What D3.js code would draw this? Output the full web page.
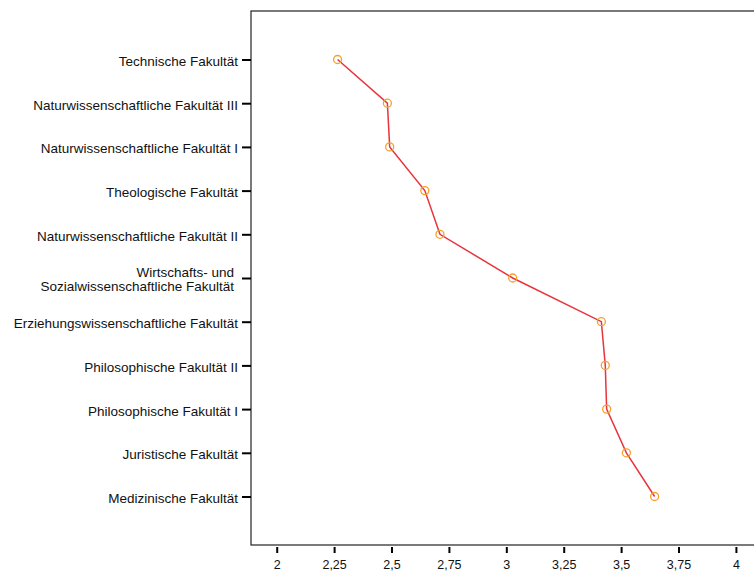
<!DOCTYPE html>
<html><head><meta charset="utf-8">
<script src="https://cdn.jsdelivr.net/npm/d3@7"></script>
<style>body{margin:0;background:#fff}svg{display:block}</style>
</head><body>
<script>
const categories = [
  "Technische Fakultät",
  "Naturwissenschaftliche Fakultät III",
  "Naturwissenschaftliche Fakultät I",
  "Theologische Fakultät",
  "Naturwissenschaftliche Fakultät II",
  "Wirtschafts- und\nSozialwissenschaftliche Fakultät",
  "Erziehungswissenschaftliche Fakultät",
  "Philosophische Fakultät II",
  "Philosophische Fakultät I",
  "Juristische Fakultät",
  "Medizinische Fakultät"
];
const values = [2.265, 2.482, 2.492, 2.645, 2.711, 3.028, 3.414, 3.431, 3.437, 3.523, 3.646];
const xTicks = [2, 2.25, 2.5, 2.75, 3, 3.25, 3.5, 3.75, 4];
const xTickLabels = ["2", "2,25", "2,5", "2,75", "3", "3,25", "3,5", "3,75", "4"];

(function () {
const W = 754, H = 572;
const mLeft = 251, mTop = 11, mBottom = 545;
const x = d3.scaleLinear().domain([1.888, 4.12]).range([mLeft, mLeft + (4.12 - 1.888) * 229.6]);
const y = d3.scalePoint().domain(categories).range([mTop, mBottom]).padding(1.11);

const svg = d3.select("body").append("svg").attr("width", W).attr("height", H)
  .style("font-family", "'Liberation Sans', Arial, sans-serif");

// frame
svg.append("rect").attr("x", mLeft).attr("y", mTop)
  .attr("width", x.range()[1] - mLeft).attr("height", mBottom - mTop)
  .attr("fill", "none").attr("stroke", "#222").attr("stroke-width", 1.2);

// x axis
const xa = svg.append("g").attr("transform", `translate(0,${mBottom + 2})`)
  .call(d3.axisBottom(x).tickValues(xTicks).tickSize(6).tickPadding(7)
    .tickFormat((d, i) => xTickLabels[i]));
xa.select(".domain").remove();
xa.selectAll(".tick line").attr("stroke", "#000").attr("stroke-width", 2);
xa.selectAll(".tick text").attr("font-size", 12.5).attr("fill", "#111")
  .attr("font-family", "'Liberation Sans', Arial, sans-serif");

// y axis
const ya = svg.append("g").attr("transform", `translate(${mLeft},0)`)
  .call(d3.axisLeft(y).tickSize(9).tickFormat(""));
ya.select(".domain").remove();
ya.selectAll(".tick line").attr("stroke", "#000").attr("stroke-width", 2);
ya.selectAll(".tick text").remove();

const lab = svg.append("g");
categories.forEach(c => {
  const lines = c.split("\n");
  const t = lab.append("text").attr("text-anchor", "end").attr("font-size", 13.5).attr("fill", "#111");
  if (lines.length === 1) {
    t.append("tspan").attr("x", 238).attr("y", y(c) + 6.5).text(lines[0]);
  } else {
    t.append("tspan").attr("x", 234).attr("y", y(c) - 1.5).text(lines[0]);
    t.append("tspan").attr("x", 234).attr("y", y(c) + 12.5).text(lines[1]);
  }
});

// line
const line = d3.line().x(d => x(d[1])).y(d => y(d[0]));
const pts = categories.map((c, i) => [c, values[i]]);
svg.append("path").datum(pts).attr("d", line)
  .attr("fill", "none").attr("stroke", "#e8343c").attr("stroke-width", 1.5);

svg.append("g").selectAll("circle").data(pts).join("circle")
  .attr("cx", d => x(d[1])).attr("cy", d => y(d[0])).attr("r", 4)
  .attr("fill", "none").attr("stroke", "#f5a02a").attr("stroke-width", 1.3);
})();
</script>
</body></html>
